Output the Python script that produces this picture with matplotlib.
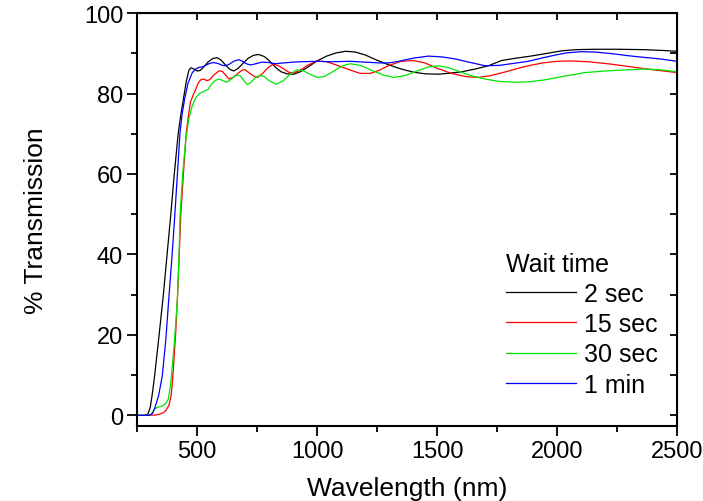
import matplotlib
matplotlib.use("Agg")
import matplotlib.pyplot as plt
from matplotlib.ticker import MultipleLocator

plt.rcParams['font.family'] = ['Liberation Sans', 'DejaVu Sans']

# Transmission spectra for films prepared with different wait times
wl_2s = [250, 280, 295, 305, 315, 323, 340, 359, 375, 390, 405, 422, 433, 443, 455, 466, 475,
         490, 501, 512, 525, 545, 565, 584, 600, 620, 637, 653, 670, 690, 712, 735, 757, 780,
         800, 827, 850, 875, 903, 930, 960, 1000, 1040, 1080, 1120, 1160, 1200, 1249, 1300,
         1350, 1402, 1450, 1506, 1560, 1603, 1660, 1714, 1769, 1830, 1880, 1921, 1970, 2018,
         2080, 2157, 2250, 2365, 2440, 2500]
t_2s = [0.0, 0.0, 0.3, 2.0, 6.0, 9.8, 19.0, 29.7, 40.0, 49.6, 60.0, 70.4, 75.0, 78.6, 83.0, 85.8, 86.4,
        86.0, 85.6, 85.7, 86.4, 87.8, 88.7, 88.9, 88.3, 87.0, 86.0, 85.6, 86.2, 87.4, 88.7, 89.5, 89.7, 89.2,
        88.2, 86.5, 85.4, 84.9, 84.8, 85.4, 86.5, 88.1, 89.3, 90.1, 90.5, 90.3, 89.6, 88.3, 87.1,
        86.1, 85.3, 84.9, 84.8, 85.1, 85.4, 86.1, 86.9, 88.2, 88.8, 89.2, 89.6, 90.1, 90.6,
        90.9, 91.0, 91.0, 90.9, 90.7, 90.5]

wl_15s = [250, 300, 330, 345, 360, 370, 383, 392, 397, 404, 411, 418, 425, 432, 443, 455, 465, 473,
          483, 494, 505, 515, 529, 540, 552, 570, 591, 605, 620, 633, 650, 670, 690, 700, 720, 740,
          752, 770, 795, 818, 840, 861, 882, 903, 930, 960, 1000, 1040, 1080, 1139, 1180, 1222,
          1260, 1300, 1350, 1400, 1450, 1500, 1560, 1620, 1672, 1720, 1780, 1840, 1880, 1940,
          2000, 2060, 2130, 2226, 2300, 2400, 2500]
t_15s = [0.0, 0.0, 0.1, 0.3, 0.7, 1.2, 2.5, 5.0, 8.1, 14.0, 20.6, 28.9, 39.0, 49.6, 60.0, 70.3, 75.0, 78.0,
         79.5, 81.0, 82.6, 83.4, 83.6, 83.2, 83.4, 84.6, 85.6, 85.5, 84.5, 83.6, 84.0, 85.0, 85.9, 85.9, 85.0, 84.2,
         84.0, 84.8, 86.4, 87.3, 86.9, 86.1, 85.3, 85.1, 85.8, 87.0, 88.1, 87.9, 87.1, 85.8, 85.0, 85.0,
         85.8, 87.0, 88.0, 88.2, 87.6, 86.3, 85.0, 84.2, 84.0, 84.4, 85.3, 86.3, 86.9, 87.6,
         88.0, 88.1, 87.9, 87.3, 86.7, 85.9, 85.2]

wl_30s = [250, 300, 310, 321, 335, 355, 370, 380, 388, 397, 405, 411, 418, 425, 429, 440, 452, 465,
          480, 495, 510, 530, 545, 560, 575, 590, 605, 620, 635, 650, 665, 680, 695, 709, 725, 742,
          760, 780, 800, 830, 860, 890, 917, 945, 970, 1000, 1030, 1070, 1105, 1139, 1180, 1230,
          1280, 1320, 1370, 1420, 1464, 1506, 1550, 1600, 1644, 1700, 1760, 1830, 1880, 1950,
          2030, 2116, 2200, 2300, 2365, 2430, 2500]
t_30s = [0.0, 0.0, 0.3, 1.5, 2.0, 2.3, 3.0, 4.0, 7.0, 12.3, 18.0, 23.0, 28.9, 40.0, 49.6, 60.0, 68.0, 73.5,
         77.0, 79.0, 80.0, 80.6, 81.0, 82.3, 83.2, 83.6, 83.3, 82.8, 83.2, 84.0, 84.6, 84.4, 83.2, 82.2, 82.8, 83.9,
         84.5, 84.2, 83.2, 82.3, 83.2, 84.9, 85.9, 85.6, 84.8, 84.0, 84.2, 85.6, 86.9, 87.4, 87.0, 85.7,
         84.5, 84.0, 84.5, 85.7, 86.6, 86.9, 86.4, 85.3, 84.4, 83.6, 83.0, 82.8, 82.9, 83.4,
         84.3, 85.2, 85.6, 85.9, 86.1, 85.9, 85.4]

wl_1m = [250, 300, 315, 325, 340, 355, 370, 383, 395, 407, 418, 429, 438, 448, 462, 480, 495, 508,
         522, 536, 553, 570, 590, 605, 619, 635, 655, 674, 690, 705, 723, 745, 771, 800, 827, 860,
         900, 937, 1000, 1060, 1139, 1200, 1260, 1300, 1339, 1402, 1464, 1520, 1575, 1640, 1700,
         1760, 1820, 1880, 1921, 1980, 2040, 2100, 2160, 2230, 2296, 2360, 2430, 2500]
t_1m = [0.0, 0.0, 0.5, 2.0, 5.0, 9.8, 19.0, 29.7, 39.0, 49.6, 60.0, 70.3, 75.0, 78.6, 82.5, 85.2, 86.1, 86.5,
        86.6, 87.0, 87.5, 87.7, 87.4, 87.0, 86.9, 87.3, 88.1, 88.4, 88.0, 87.4, 87.1, 87.4, 87.8, 87.7, 87.4, 87.6,
        87.8, 87.9, 88.0, 87.9, 88.0, 87.8, 87.6, 87.6, 88.0, 88.8, 89.3, 89.1, 88.6, 87.7, 86.9,
        87.0, 87.5, 88.0, 88.6, 89.4, 90.1, 90.4, 90.3, 89.9, 89.4, 89.0, 88.6, 88.0]

labels = ['2 sec', '15 sec', '30 sec', '1 min']
colors = ['#000000', '#ff0000', '#00e600', '#0000ff']

fig = plt.figure(figsize=(7.03, 5.02), dpi=100)
ax = fig.add_axes([0.195, 0.149, 0.768, 0.823])

series = [(wl_2s, t_2s), (wl_15s, t_15s), (wl_30s, t_30s), (wl_1m, t_1m)]
for (x, y), lab, c in zip(series, labels, colors):
    ax.plot(x, y, color=c, lw=0.9, label=lab)

ax.set_xlim(250, 2500)
ax.set_ylim(-2.7, 100)
ax.xaxis.set_major_locator(MultipleLocator(500))
ax.xaxis.set_minor_locator(MultipleLocator(250))
ax.yaxis.set_major_locator(MultipleLocator(20))
ax.yaxis.set_minor_locator(MultipleLocator(10))

for sp in ax.spines.values():
    sp.set_linewidth(1.5)

ax.tick_params(which='major', direction='out', length=7, width=1.3, labelsize=17, pad=3)
ax.tick_params(which='minor', direction='out', length=4, width=1.3)
# inward ticks on the opposite sides
ax2 = ax.secondary_xaxis('top')
ax2.xaxis.set_major_locator(MultipleLocator(250))
ax2.tick_params(direction='in', length=5, width=1.3, labeltop=False)
ax3 = ax.secondary_yaxis('right')
ax3.yaxis.set_major_locator(MultipleLocator(10))
ax3.tick_params(direction='in', length=5, width=1.3, labelright=False)

ax.set_xlabel('Wavelength (nm)', fontsize=19, labelpad=10)
ax.set_ylabel('% Transmission', fontsize=19, labelpad=26)

leg = ax.legend(title='Wait time', loc='upper left', bbox_to_anchor=(0.661, 0.453),
                frameon=False, fontsize=18, title_fontsize=18, handlelength=2.8,
                handletextpad=0.3, labelspacing=0.25, borderpad=0, alignment='left')

fig.savefig('out.png', dpi=100)
